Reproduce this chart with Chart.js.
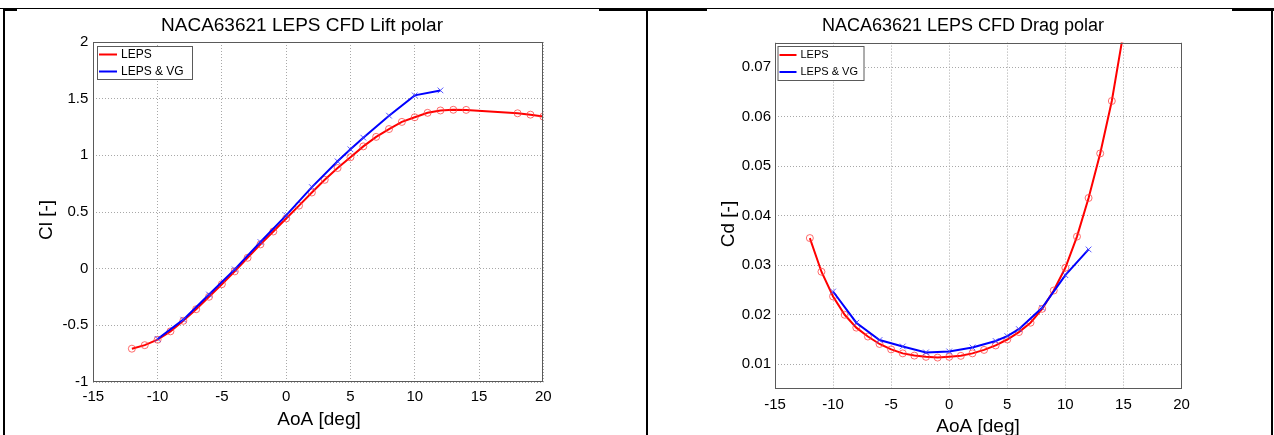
<!DOCTYPE html>
<html>
<head>
<meta charset="utf-8">
<script src="https://cdn.jsdelivr.net/npm/chart.js@4.4.0/dist/chart.umd.min.js"></script>
<style>
  body { margin: 0; background: #fff; }
  #wrap { position: relative; width: 1274px; height: 435px; overflow: hidden; }
  canvas { position: absolute; top: 0; }
  .ln { position: absolute; background: #000; }
</style>
</head>
<body>
<div id="wrap">
  <canvas id="chart-lift" width="640" height="435" style="left:0"></canvas>
  <canvas id="chart-drag" width="634" height="435" style="left:640px"></canvas>
  <!-- table borders around the two figures -->
  <div class="ln" style="left:0;top:8px;width:1274px;height:1px"></div>
  <div class="ln" style="left:3px;top:9px;width:14px;height:2px"></div>
  <div class="ln" style="left:599px;top:9px;width:108px;height:2px"></div>
  <div class="ln" style="left:1232px;top:9px;width:42px;height:2px"></div>
  <div class="ln" style="left:3px;top:9px;width:2px;height:426px"></div>
  <div class="ln" style="left:646px;top:9px;width:2px;height:426px"></div>
  <div class="ln" style="left:1271px;top:9px;width:2px;height:426px"></div>
</div>

<script>
// angles of attack
const aoaLeps = [-12, -11, -10, -9, -8, -7, -6, -5, -4, -3, -2, -1, 0, 1, 2, 3, 4, 5, 6, 7, 8, 9, 10, 11, 12, 13, 14, 18, 19, 20];
const aoaLepsDrag = [-12, -11, -10, -9, -8, -7, -6, -5, -4, -3, -2, -1, 0, 1, 2, 3, 4, 5, 6, 7, 8, 9, 10, 11, 12, 13, 14, 15];
const aoaVg = [-10, -8, -6, -4, -2, 0, 2, 4, 5, 6, 8, 10, 12];

// lift
const clLeps = [-0.706, -0.675, -0.627, -0.553, -0.46, -0.358, -0.248, -0.137, -0.024, 0.096, 0.214, 0.328, 0.443, 0.556, 0.672, 0.784, 0.888, 0.983, 1.079, 1.163, 1.232, 1.295, 1.336, 1.375, 1.396, 1.402, 1.401, 1.371, 1.359, 1.342];
const clVg = [-0.62, -0.45, -0.228, -0.006, 0.235, 0.47, 0.72, 0.947, 1.053, 1.156, 1.35, 1.529, 1.573];

// drag
const cdLeps = [0.0355, 0.0287, 0.0237, 0.0200, 0.0174, 0.0156, 0.0141, 0.0130, 0.0122, 0.01175, 0.0115, 0.01135, 0.0115, 0.0117, 0.0122, 0.0129, 0.0138, 0.0150, 0.0165, 0.0184, 0.0212, 0.0249, 0.0295, 0.0358, 0.0436, 0.0526, 0.0632, 0.077];
const cdVg = [0.0247, 0.0184, 0.0149, 0.0136, 0.0124, 0.0126, 0.0134, 0.0147, 0.0157, 0.0171, 0.0214, 0.0280, 0.0332];

// ticks
const aoaTicks = [-15, -10, -5, 0, 5, 10, 15, 20];
const clTicks = [-1, -0.5, 0, 0.5, 1, 1.5, 2];
const cdTicks = [0.01, 0.02, 0.03, 0.04, 0.05, 0.06, 0.07];

const FONT = '"Liberation Sans", Arial, sans-serif';
Chart.defaults.font.family = FONT;
Chart.defaults.color = "#000";

function toPoints(xs, ys) {
  return xs.map((x, i) => ({ x: x, y: ys[i] }));
}

// title, axis labels, box and legend drawn like matlab does
const polarDecor = {
  id: "polarDecor",
  afterDraw(chart, args, o) {
    const ctx = chart.ctx;
    const a = chart.chartArea;
    ctx.save();
    ctx.strokeStyle = "#5a5a5a";
    ctx.lineWidth = 1;
    ctx.strokeRect(Math.round(a.left) + 0.5, Math.round(a.top) + 0.5,
      Math.round(a.right - a.left) - 1, Math.round(a.bottom - a.top) - 1);

    ctx.fillStyle = "#000";
    ctx.textAlign = "center";
    ctx.textBaseline = "middle";
    ctx.font = o.titleSize + "px " + FONT;
    ctx.fillText(o.title, o.titleX, o.titleY);

    ctx.font = o.labelSize + "px " + FONT;
    ctx.fillText(o.xTitle, o.xTitleX, o.xTitleY);
    ctx.save();
    ctx.translate(o.yTitleX, o.yTitleY);
    ctx.rotate(-Math.PI / 2);
    ctx.fillText(o.yTitle, 0, 0);
    ctx.restore();

    // legend
    const L = o.legend;
    ctx.fillStyle = "#fff";
    ctx.fillRect(L.x, L.y, L.w, L.h);
    ctx.strokeStyle = "#5a5a5a";
    ctx.strokeRect(L.x + 0.5, L.y + 0.5, L.w, L.h);
    ctx.textAlign = "left";
    ctx.font = L.size + "px " + FONT;
    chart.data.datasets.forEach((ds, i) => {
      const y = L.y + L.row0 + i * L.gap;
      ctx.strokeStyle = ds.borderColor;
      ctx.lineWidth = 2;
      ctx.beginPath();
      ctx.moveTo(L.x + 2, y);
      ctx.lineTo(L.x + L.lineLen, y);
      ctx.stroke();
      ctx.fillStyle = "#000";
      ctx.fillText(ds.label, L.x + L.lineLen + 4, y);
    });
    ctx.restore();
  }
};

function buildPolar(id, cfg) {
  const ctx = document.getElementById(id).getContext("2d");
  return new Chart(ctx, {
    type: "scatter",
    data: {
      datasets: [{
        label: "LEPS",
        data: cfg.red,
        showLine: true,
        borderColor: "#ff0000",
        borderWidth: 2,
        pointStyle: "circle",
        pointRadius: 3.5,
        pointBorderWidth: 1,
        pointBorderColor: "rgba(255,60,60,0.75)",
        pointBackgroundColor: "transparent",
        order: 2
      }, {
        label: "LEPS & VG",
        data: cfg.blue,
        showLine: true,
        borderColor: "#0000ff",
        borderWidth: 2,
        pointStyle: "crossRot",
        pointRadius: 4,
        pointBorderWidth: 1,
        pointBorderColor: "rgba(60,60,255,0.85)",
        pointBackgroundColor: "transparent",
        order: 1
      }]
    },
    options: {
      responsive: false,
      animation: false,
      layout: { padding: cfg.padding },
      plugins: {
        legend: { display: false },
        title: { display: false },
        tooltip: { enabled: false },
        polarDecor: cfg.decor
      },
      scales: {
        x: {
          type: "linear",
          min: -15,
          max: 20,
          afterBuildTicks: s => { s.ticks = aoaTicks.map(v => ({ value: v })); },
          afterFit: s => { s.height = 30; },
          grid: { color: "#a8a8a8", drawTicks: false },
          border: { display: false, dash: [1, 2] },
          ticks: { padding: cfg.xPad, maxRotation: 0, autoSkip: false, font: { size: 15 }, callback: v => String(v) }
        },
        y: {
          type: "linear",
          min: cfg.yMin,
          max: cfg.yMax,
          afterBuildTicks: s => { s.ticks = cfg.yTicks.map(v => ({ value: v })); },
          afterFit: s => { s.width = cfg.yWidth; },
          grid: { color: "#a8a8a8", drawTicks: false },
          border: { display: false, dash: [1, 2] },
          ticks: { padding: cfg.yPad, autoSkip: false, font: { size: 15 }, callback: v => String(v) }
        }
      }
    },
    plugins: [polarDecor]
  });
}

// Lift polar
let liftChart = buildPolar("chart-lift", {
  red: toPoints(aoaLeps, clLeps),
  blue: toPoints(aoaVg, clVg),
  yMin: -1, yMax: 2, yTicks: clTicks,
  padding: { left: 10, right: 96.7, top: 42, bottom: 23 },
  yWidth: 83.3, xPad: 6, yPad: 5,
  decor: {
    title: "NACA63621 LEPS CFD Lift polar", titleSize: 19, titleX: 302, titleY: 26,
    xTitle: "AoA [deg]", xTitleX: 319, xTitleY: 420,
    yTitle: "Cl [-]", yTitleX: 47, yTitleY: 220, labelSize: 19,
    legend: { x: 97, y: 46, w: 95, h: 33, row0: 8.5, gap: 17, lineLen: 20, size: 12 }
  }
});

// Drag polar
let dragChart = buildPolar("chart-drag", {
  red: toPoints(aoaLepsDrag, cdLeps),
  blue: toPoints(aoaVg, cdVg),
  yMin: 0.005, yMax: 0.075, yTicks: cdTicks,
  padding: { left: 10, right: 92.5, top: 42.6, bottom: 16 },
  yWidth: 125, xPad: 7, yPad: 4,
  decor: {
    title: "NACA63621 LEPS CFD Drag polar", titleSize: 18, titleX: 323, titleY: 26,
    xTitle: "AoA [deg]", xTitleX: 338, xTitleY: 427,
    yTitle: "Cd [-]", yTitleX: 89, yTitleY: 224, labelSize: 19,
    legend: { x: 137.5, y: 46, w: 86, h: 34, row0: 9, gap: 17, lineLen: 19, size: 11 }
  }
});
</script>
</body>
</html>
